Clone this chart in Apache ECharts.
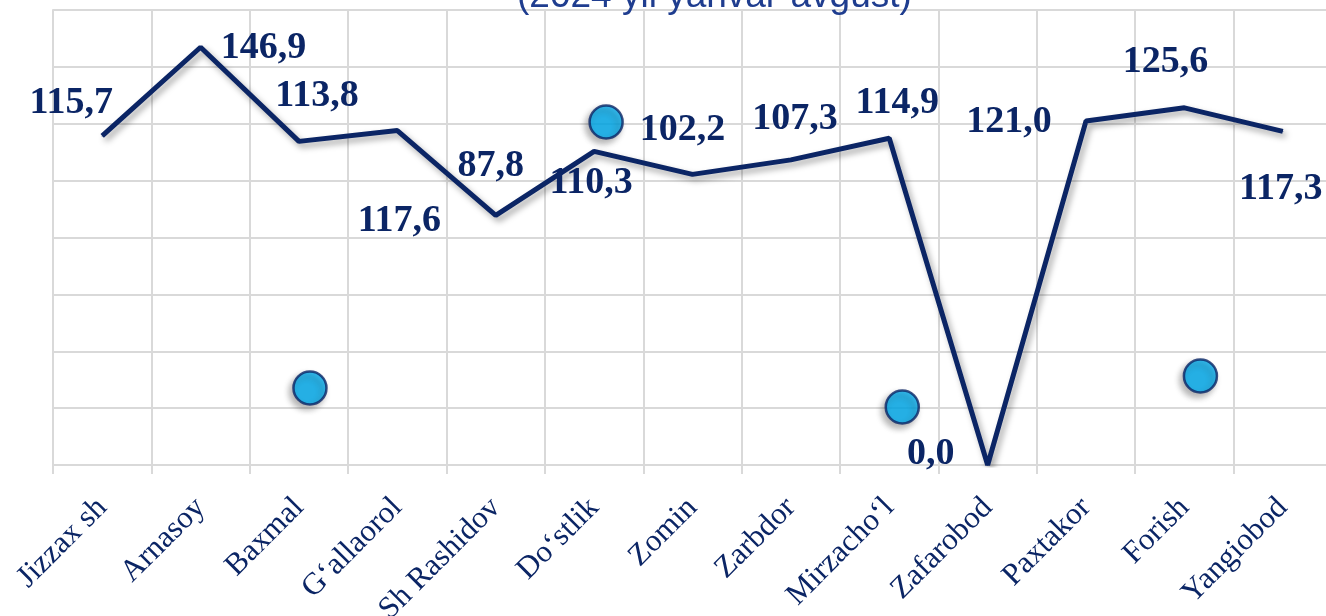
<!DOCTYPE html>
<html>
<head>
<meta charset="utf-8">
<script src="https://cdn.jsdelivr.net/npm/echarts@6/dist/echarts.min.js"></script>
<style>
    html,body{margin:0;padding:0;background:#fff;}
    #chart{width:1326px;height:616px;}
</style>
</head>
<body>
<div id="chart"></div>
<script>
//----tumanlar
var categories = ['Jizzax sh','Arnasoy','Baxmal','G‘allaorol','Sh Rashidov','Do‘stlik','Zomin','Zarbdor','Mirzacho‘l','Zafarobod','Paxtakor','Forish','Yangiobod'];
//----qiymatlar (foizda)
var values = [115.7,146.9,113.8,117.6,87.8,110.3,102.2,107.3,114.9,0.0,121.0,125.6,117.3];
//----bezak doirachalari (kategoriya -> qiymat)
var dotValues = [null,null,27.1,null,null,120.6,null,null,20.4,null,null,31.3,null];
var yTicks = [0,20,40,60,80,100,120,140,160];

var navy = '#0b2565';

//---label joylashuvi (faqat uslub)
var labelOffsets = [[-31,-33],[63,1],[18,-45],[2,91],[-5,-49],[-3,32],[-10,-44],[4,-41],[8,-35],[-57,-11],[-77,1],[-19,-46],[-2,58]];
var dotOffsets = [0,0,11,0,0,12,0,0,13,0,0,16,0];

var lineData = [];
for(var i = 0;i < values.length;i++){
    lineData.push({
        value: values[i],
        label:{offset: labelOffsets[i]}
    });
}
var dotData = [];
for(var j = 0;j < dotValues.length;j++){
    dotData.push(dotValues[j] === null ? null : {value: dotValues[j], symbolOffset:[dotOffsets[j],0]});
}

var myChart = echarts.init(document.getElementById('chart'));
var option = {
    backgroundColor:'#fff',
    animation:false,
    title:{
        text:'(2024 yil yanvar-avgust)',
        left:512,
        top:-27,
        textStyle:{
            fontFamily:'Liberation Sans',
            fontSize:37,
            fontWeight:'normal',
            color:'#1f3d8f'
        }
    },
    grid:{
        left:53,
        right:-6,
        top:10,
        bottom:151,
        outerBoundsMode:'none',
        containLabel:false
    },
    xAxis:{
        type:'category',
        data:categories,
        boundaryGap:true,
        axisLine:{show:true,lineStyle:{color:'#d9d9d9',width:2}},
        axisTick:{show:true,length:9,lineStyle:{color:'#d9d9d9',width:2}},
        splitLine:{show:true,lineStyle:{color:'#d9d9d9',width:2}},
        axisLabel:{
            rotate:45,
            interval:0,
            margin:38,
            fontFamily:'Liberation Serif',
            fontSize:31,
            color:navy
        }
    },
    yAxis:{
        type:'value',
        min:yTicks[0],
        max:yTicks[yTicks.length - 1],
        interval:20,
        axisLabel:{show:false},
        axisTick:{show:false},
        axisLine:{show:true,lineStyle:{color:'#d9d9d9',width:2}},
        splitLine:{show:true,lineStyle:{color:'#d9d9d9',width:2}}
    },
    series:[
        {
            name:'qiymat',
            type:'line',
            data:lineData,
            symbol:'circle',
            symbolSize:1,
            itemStyle:{color:navy},
            lineStyle:{
                color:navy,
                width:5,
                shadowColor:'rgba(0,0,0,0.35)',
                shadowBlur:6,
                shadowOffsetX:3,
                shadowOffsetY:4
            },
            label:{
                show:true,
                position:'inside',
                fontFamily:'Liberation Serif',
                fontWeight:'bold',
                fontSize:38,
                color:navy,
                formatter:function(p){
                    return p.value.toFixed(1).replace('.',',');
                }
            },
            z:3
        },
        {
            name:'doira',
            type:'scatter',
            data:dotData,
            symbol:'circle',
            symbolSize:33,
            itemStyle:{
                color:'#00adef',
                borderColor:navy,
                borderWidth:2.5,
                shadowColor:'rgba(0,0,0,0.35)',
                shadowBlur:6,
                shadowOffsetX:-3,
                shadowOffsetY:4
            },
            z:4
        }
    ]
};
myChart.setOption(option);
</script>
</body>
</html>
